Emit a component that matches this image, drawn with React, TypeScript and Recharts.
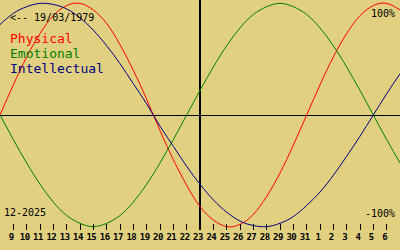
import { LineChart, Line, XAxis, YAxis, ReferenceLine } from 'recharts'

// days shown on the strip, Dec 8 2025 .. Jan 7 2026 (today = Dec 23 in the middle)
const days = ['8', '9', '10', '11', '12', '13', '14', '15', '16', '17', '18', '19', '20', '21', '22', '23',
  '24', '25', '26', '27', '28', '29', '30', '31', '1', '2', '3', '4', '5', '6', '7']

// cycle values in percent, one per day
const physical = [0, 27, 52, 73, 89, 98, 100, 94, 82, 63, 40, 14, -14, -40, -63, -82, -94, -100, -98, -89, -73, -52, -27, 0, 27, 52, 73, 89, 98, 100, 94]
const emotional = [0, -22, -43, -62, -78, -90, -97, -100, -97, -90, -78, -62, -43, -22, 0, 22, 43, 62, 78, 90, 97, 100, 97, 90, 78, 62, 43, 22, 0, -22, -43]
const intellectual = [81, 91, 97, 100, 99, 95, 87, 76, 62, 46, 28, 10, -10, -28, -46, -62, -76, -87, -95, -99, -100, -97, -91, -81, -69, -54, -37, -19, 0, 19, 37]

const birthLabel = '<-- 19/03/1979'
const monthLabel = '12-2025'
const todayIndex = 15

const RED = '#ff0000'
const GREEN = '#008000'
const BLUE = '#000080'
const BG = '#e0d080'
const MONO = '"DejaVu Sans Mono", monospace'

const data = days.map((day, i) => ({
  i,
  day,
  Physical: physical[i],
  Emotional: emotional[i],
  Intellectual: intellectual[i],
}))

const tickIdx = days.map((_, i) => i).slice(1, -1)

function DayTick(props: any) {
  const { x, y, payload } = props
  return (
    <g>
      <line x1={x} x2={x} y1={y - 6} y2={y} stroke="#000" strokeWidth={1} shapeRendering="crispEdges" />
      <text x={x - 2} y={y + 10} textAnchor="middle" fontFamily={MONO} fontSize={9} fontWeight="bold" letterSpacing={-0.5} fill="#000">
        {days[payload.value]}
      </text>
    </g>
  )
}

export default function App() {
  return (
    <div style={{ position: 'absolute', left: 0, top: 0, width: 400, height: 250, background: BG }}>
      <LineChart width={400} height={250} data={data} margin={{ top: 0, right: 0, bottom: 0, left: 0 }}>
        <XAxis
          dataKey="i"
          type="number"
          domain={[0, 30]}
          ticks={tickIdx}
          interval={0}
          height={20}
          axisLine={false}
          tickLine={false}
          tickSize={0}
          tickMargin={0}
          tick={<DayTick />}
        />
        <YAxis hide domain={[-103, 103]} />
        <ReferenceLine y={0} stroke="#000" strokeWidth={1} shapeRendering="crispEdges" />
        <ReferenceLine x={todayIndex} stroke="#000" strokeWidth={2} shapeRendering="crispEdges" />
        <Line type="natural" dataKey="Physical" stroke={RED} strokeWidth={1} dot={false} activeDot={false} isAnimationActive={false} />
        <Line type="natural" dataKey="Emotional" stroke={GREEN} strokeWidth={1} dot={false} activeDot={false} isAnimationActive={false} />
        <Line type="natural" dataKey="Intellectual" stroke={BLUE} strokeWidth={1} dot={false} activeDot={false} isAnimationActive={false} />
      </LineChart>
      <svg width={400} height={250} style={{ position: 'absolute', left: 0, top: 0, pointerEvents: 'none' }}>
        <text x={10} y={21} fontFamily={MONO} fontSize={10} fill="#000">{birthLabel}</text>
        <text x={10} y={43} fontFamily={MONO} fontSize={13} fill={RED}>Physical</text>
        <text x={10} y={58} fontFamily={MONO} fontSize={13} fill={GREEN}>Emotional</text>
        <text x={10} y={73} fontFamily={MONO} fontSize={13} fill={BLUE}>Intellectual</text>
        <text x={395} y={17} textAnchor="end" fontFamily={MONO} fontSize={10} fill="#000">100%</text>
        <text x={4} y={216} fontFamily={MONO} fontSize={10} fill="#000">{monthLabel}</text>
        <text x={395} y={217} textAnchor="end" fontFamily={MONO} fontSize={10} fill="#000">-100%</text>
      </svg>
    </div>
  )
}
